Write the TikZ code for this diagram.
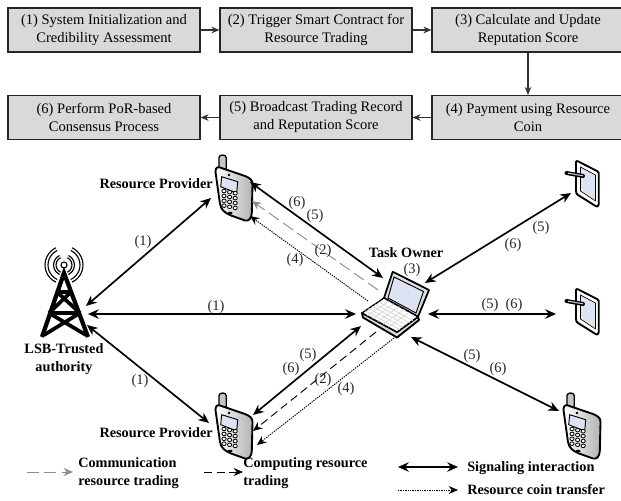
\documentclass[tikz,border=0pt]{standalone}
\usepackage{fontspec}
\setmainfont{Liberation Serif}
\usetikzlibrary{arrows.meta}
\definecolor{boxgray}{HTML}{D9D9D9}
\definecolor{dashgray}{HTML}{8C8C8C}
\definecolor{scr}{HTML}{DCE4F4}
\tikzset{
  x=0.75pt,y=-0.75pt,
  stepbox/.style={draw=black!85,line width=0.9pt,fill=boxgray,minimum width=144pt,minimum height=33pt,inner sep=0pt,
    align=center,font=\fontsize{10.9}{13.5}\selectfont},
  flow/.style={draw=black!80,line width=0.8pt,-{Stealth[length=6pt,width=5pt]}},
  sig/.style={line width=1.25pt,{Stealth[length=8pt,width=7pt]}-{Stealth[length=8pt,width=7pt]}},
  grayd/.style={draw=dashgray,line width=0.7pt,dash pattern=on 9pt off 4pt,-{Stealth[length=7pt,width=6pt]}},
  blackd/.style={line width=0.7pt,dash pattern=on 6pt off 3.5pt,-{Stealth[length=7pt,width=6pt]}},
  coin/.style={line width=0.7pt,dash pattern=on 1pt off 0.8pt,-{Stealth[length=7pt,width=6pt]}},
  num/.style={font=\fontsize{10.9}{12}\selectfont,inner sep=0pt,text=black!85},
  bold/.style={font=\fontsize{10.7}{13.5}\selectfont\bfseries,inner sep=0pt,align=center},
  legend/.style={font=\fontsize{10.7}{13.5}\selectfont\bfseries,inner sep=0pt,align=left,anchor=west},
  pics/phone/.style={code={
    \path[fill=gray!45,draw=black,line width=1pt] (4,16) -- (4,2.5) arc[start angle=180,end angle=0,x radius=3.6,y radius=-2.5] -- (11.2,16) -- cycle;
    \path[left color=white,middle color=white,right color=gray!60,draw=black,line width=1.4pt,line join=round]
      (0.5,17) .. controls (0.5,13) and (2,11.5) .. (5,12.5) -- (30,21) .. controls (35,23) and (37.5,25) .. (37.5,29)
      -- (36.8,58) .. controls (36.5,63) and (34,66.5) .. (30,65.5) -- (16,60.5) .. controls (10,58) and (6,55) .. (5,49) -- cycle;
    \fill[scr,draw=black,line width=0.7pt] (6.7,21.7) -- (22.7,26.7) -- (21.7,38) -- (5.7,31.7) -- cycle;
    \foreach \i in {0,1,2}\foreach \j in {0,1,2,3}
      \draw[black,line width=0.6pt,fill=white] ({9+5.6*\i},{36+4.9*\j+1.1*\i}) circle[x radius=2.1,y radius=1.8];
    \fill[black] (14,20) circle[radius=1.3];
    \fill[black] (15,58) circle[x radius=2.6,y radius=1.3];
  }},
  pics/tablet/.style={code={
    \fill[white,draw=black,line width=1.4pt,line join=round] (11,1) .. controls (11,0) and (12,-0.2) .. (13,0.3) -- (32,10) .. controls (33.5,11) and (33.8,12) .. (33.8,13)
      -- (33.8,43) .. controls (33.8,45.5) and (32,46) .. (31,45.3) -- (13,34) .. controls (11.5,33) and (11,32) .. (11,30) -- cycle;
    \fill[scr,draw=black,line width=0.5pt] (15.5,6) -- (30.5,14) -- (30.5,40) -- (15.5,30) -- cycle;
    \draw[line width=3pt,line cap=round] (1.5,12) -- (18,15);
    \draw[gray!40,line width=0.8pt] (3,12.2) -- (18,14.8);
  }},
  pics/laptop/.style={code={
    \fill[gray!25,draw=black,line width=1.3pt,line join=round] (30.7,6.7) -- (67,25) -- (56,51.7) -- (22,33) -- cycle;
    \fill[scr,draw=black,line width=0.7pt] (32,12) -- (61.5,26.5) -- (54,48) -- (26,33) -- cycle;
    \fill[gray!30,draw=black,line width=1.4pt,line join=round] (0,48) -- (1,52.5) -- (35,72.5) -- (57,55) -- (56,51.7) -- (35,67) -- cycle;
    \fill[white,draw=black,line width=1pt,line join=round] (0,48) -- (22,33) -- (56,51.7) -- (35,67) -- cycle;
    \foreach \t in {0.15,0.3,...,0.86}{
      \draw[gray!35,line width=0.5pt] ({22*\t},{48-15*\t}) -- ({35+21*\t},{67-15.3*\t});
      \draw[gray!35,line width=0.5pt] ({35*\t},{48+19*\t}) -- ({22+34*\t},{33+18.7*\t});
    }
  }},
  pics/tower/.style={code={
    \draw[line width=3.2pt,line join=miter] (42,337) -- (64,273) -- (88,337);
    \draw[line width=2.8pt] (57,292) -- (71,292) (57,292) -- (80,313) (71,292) -- (49,313) (49,313) -- (80,313) (49,313) -- (86,335) (80,313) -- (44,335);
    \draw[line width=0.8pt] (64,265) circle[radius=3];
    \foreach \r in {8,10.5,16,19}{
      \draw[line width=0.85pt] (64,265) ++(115:\r) arc[start angle=115,end angle=245,radius=\r];
      \draw[line width=0.85pt] (64,265) ++(65:\r) arc[start angle=65,end angle=-65,radius=\r];
    }
  }}
}
\begin{document}
\begin{tikzpicture}
\useasboundingbox (0,0) rectangle (621,500);
% flow chart
\node[stepbox] (s1) at (104,30) {(1) System Initialization and\\Credibility Assessment};
\node[stepbox] (s2) at (316,30) {(2) Trigger Smart Contract for\\Resource Trading};
\node[stepbox] (s3) at (528,30) {(3) Calculate and Update\\Reputation Score};
\node[stepbox] (s4) at (528,117.5) {(4) Payment using Resource\\Coin};
\node[stepbox] (s5) at (316,117.5) {(5) Broadcast Trading Record\\and Reputation Score};
\node[stepbox] (s6) at (104,117.5) {(6) Perform PoR-based\\Consensus Process};
\draw[flow] (s1) -- (s2);
\draw[flow] (s2) -- (s3);
\draw[flow] (s3) -- (s4);
\draw[flow] (s4) -- (s5);
\draw[flow] (s5) -- (s6);
% devices
\pic at (0,0) {tower};
\pic at (215,155) {phone};
\pic at (215,393) {phone};
\pic at (563,393) {phone};
\pic at (565,161) {tablet};
\pic at (565,289) {tablet};
\pic at (362,265) {laptop};
% connector ends
\coordinate (rp1a) at (211,198);  \coordinate (tw1) at (86,306);
\coordinate (tw2) at (88,314);    \coordinate (lt1) at (356,314);
\coordinate (tw3) at (87,325);    \coordinate (rp2a) at (209,423);
\coordinate (rp1b) at (250,182);  \coordinate (lt2) at (383,278);
\coordinate (rp1c) at (252,201);  \coordinate (lt3) at (378,290);
\coordinate (rp1d) at (250,216);  \coordinate (lt4) at (368,301);
\coordinate (rp2b) at (253,415);  \coordinate (lt5) at (361,326);
\coordinate (rp2c) at (253,431);  \coordinate (lt6) at (376,332);
\coordinate (rp2d) at (257,445);  \coordinate (lt7) at (394,338);
\coordinate (tb1) at (571,193);   \coordinate (lt8) at (425,283);
\coordinate (tb2) at (556,314);   \coordinate (lt9) at (428,314);
\coordinate (ph3) at (559,411);   \coordinate (lt10) at (411,337);
\draw[sig] (rp1a) -- (tw1);
\draw[sig] (tw2) -- (lt1);
\draw[sig] (tw3) -- (rp2a);
\draw[sig] (rp1b) -- (lt2);
\draw[grayd] (lt3) -- (rp1c);
\draw[coin] (lt4) -- (rp1d);
\draw[sig] (lt5) -- (rp2b);
\draw[blackd] (lt6) -- (rp2c);
\draw[coin] (lt7) -- (rp2d);
\draw[sig] (lt8) -- (tb1);
\draw[sig] (lt9) -- (tb2);
\draw[sig] (lt10) -- (ph3);
% labels
\node[num] (n1) at (143,242) {(1)};
\node[num] (n2) at (216,307) {(1)};
\node[num] (n3) at (140,381) {(1)};
\node[num] (n4) at (297,203) {(6)};
\node[num] (n5) at (315,216) {(5)};
\node[num] (n6) at (323,251) {(2)};
\node[num] (n7) at (295,260) {(4)};
\node[num] (n8) at (412,270) {(3)};
\node[num] (n9) at (308,355) {(5)};
\node[num] (n10) at (291,369) {(6)};
\node[num] (n11) at (323,380) {(2)};
\node[num] (n12) at (346,389) {(4)};
\node[num] (n13) at (472,356) {(5)};
\node[num] (n14) at (498,369) {(6)};
\node[num] (n15) at (541,228) {(5)};
\node[num] (n16) at (513,245) {(6)};
\node[num] (n17) at (490,305) {(5)};
\node[num] (n18) at (514,305) {(6)};
\node[bold] (to) at (406,253) {Task Owner};
\node[bold,anchor=east] (rp1) at (213,184) {Resource Provider};
\node[bold,anchor=east] (rp2) at (213,433) {Resource Provider};
\node[bold] (lsb) at (64,359) {LSB-Trusted\\authority};
% legend
\coordinate (l1a) at (27,472);  \coordinate (l1b) at (73,472);
\coordinate (l2a) at (204,472); \coordinate (l2b) at (243,472);
\coordinate (l3a) at (398,467); \coordinate (l3b) at (458,467);
\coordinate (l4a) at (398,490); \coordinate (l4b) at (458,490);
\draw[grayd] (l1a) -- (l1b);
\draw[blackd] (l2a) -- (l2b);
\draw[sig] (l3a) -- (l3b);
\draw[coin] (l4a) -- (l4b);
\node[legend] (t1) at (78,473) {Communication\\resource trading};
\node[legend] (t2) at (243,473) {Computing resource\\trading};
\node[legend] (t3) at (467,468) {Signaling interaction};
\node[legend] (t4) at (467,490) {Resource coin transfer};
\end{tikzpicture}
\end{document}
